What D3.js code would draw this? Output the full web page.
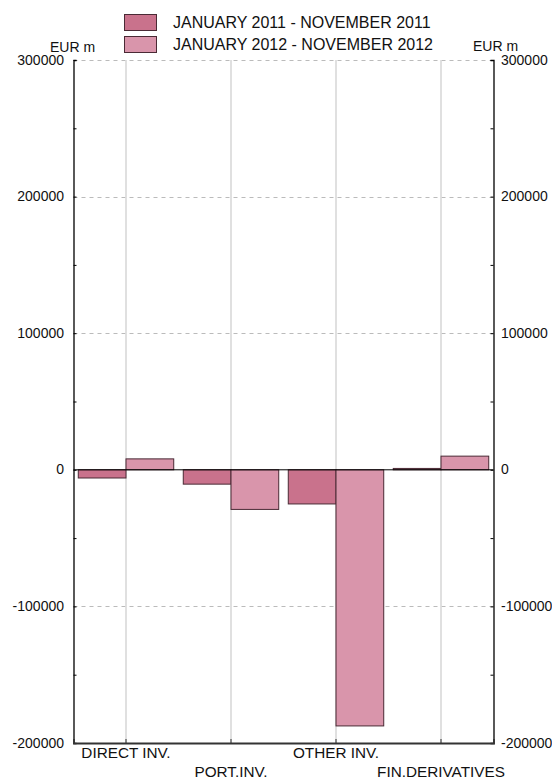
<!DOCTYPE html>
<html><head><meta charset="utf-8">
<script src="https://cdn.jsdelivr.net/npm/d3@7"></script>
<style>body{margin:0;background:#fff}svg{display:block;font-family:"Liberation Sans",Arial,sans-serif}</style>
</head><body><svg id="c" width="552" height="780"></svg>
<script>
const categories = ["DIRECT INV.", "PORT.INV.", "OTHER INV.", "FIN.DERIVATIVES"];
const seriesNames = ["JANUARY 2011 - NOVEMBER 2011", "JANUARY 2012 - NOVEMBER 2012"];
const values2011 = [-6000, -10500, -25000, 1000];
const values2012 = [8000, -29000, -187500, 10000];
const yTicks = [-200000, -100000, 0, 100000, 200000, 300000];
const unitLabel = "EUR m";
const colors = ["#c9728c", "#d995ab"];

const svg = d3.select("#c");
const L = 73.5, R = 493.5, T = 60, B = 743;
const x = d3.scaleBand().domain(categories).range([L, R]).paddingInner(0).paddingOuter(0);
const xs = d3.scaleBand().domain([0, 1]).range([0, x.bandwidth()]).paddingOuter(0.1).paddingInner(0);
const y = d3.scaleLinear().domain([-200000, 300000]).range([B, T]);

// horizontal dashed grid
svg.append("g").selectAll("line").data(yTicks.filter(d => d !== 0 && d !== -200000)).join("line")
  .attr("x1", L).attr("x2", R).attr("y1", d => Math.round(y(d)) + 0.5).attr("y2", d => Math.round(y(d)) + 0.5)
  .attr("stroke", "#bbb").attr("stroke-dasharray", "4,4").attr("stroke-width", 1);
// vertical grid at category centers
svg.append("g").selectAll("line").data(categories).join("line")
  .attr("x1", d => x(d) + x.bandwidth() / 2).attr("x2", d => x(d) + x.bandwidth() / 2)
  .attr("y1", T).attr("y2", B).attr("stroke", "#d6d6d6").attr("stroke-width", 1.5);

// bars
const series = [values2011, values2012];
series.forEach((vals, si) => {
  svg.append("g").selectAll("rect").data(categories).join("rect")
    .attr("x", (d) => x(d) + xs(si))
    .attr("width", xs.bandwidth())
    .attr("y", (d, i) => y(Math.max(0, vals[i])))
    .attr("height", (d, i) => Math.abs(y(vals[i]) - y(0)))
    .attr("fill", colors[si]).attr("stroke", "#4a2a35").attr("stroke-width", 1);
});

// zero line
svg.append("line").attr("x1", L).attr("x2", R).attr("y1", y(0)).attr("y2", y(0)).attr("stroke", "#000").attr("stroke-width", 1);

// left axis
const minor = d3.range(-200000, 300001, 50000);
const yl = svg.append("g").attr("transform", `translate(${L},0)`)
  .call(d3.axisRight(y).tickValues(minor).tickSize(3).tickFormat(""));
yl.select(".domain").attr("stroke", "#000").attr("stroke-width", 1.3);
svg.append("g").selectAll("text").data(yTicks).join("text")
  .attr("x", 64).attr("y", d => y(d) + 4.5).attr("text-anchor", "end").attr("font-size", 14).attr("fill", "#111").text(d => d);
// right axis
const yr = svg.append("g").attr("transform", `translate(${R},0)`)
  .call(d3.axisLeft(y).tickValues(minor).tickSize(3).tickFormat(""));
yr.select(".domain").attr("stroke", "#000").attr("stroke-width", 1.3);
svg.append("g").selectAll("text").data(yTicks).join("text")
  .attr("x", 501).attr("y", d => y(d) + 4.5).attr("text-anchor", "start").attr("font-size", 14).attr("fill", "#111").text(d => d);
svg.append("text").attr("x", 50).attr("y", 52).attr("font-size", 14).attr("fill", "#111").text(unitLabel);
svg.append("text").attr("x", 473).attr("y", 51).attr("font-size", 14).attr("fill", "#111").text(unitLabel);

// bottom axis
const xb = svg.append("g").attr("transform", `translate(0,${B})`)
  .call(d3.axisTop(x).tickSize(4).tickFormat(""));
xb.select(".domain").attr("stroke", "#333").attr("stroke-width", 1.8);
xb.selectAll(".tick line").attr("stroke", "#333");
svg.append("g").selectAll("text").data(categories).join("text")
  .attr("x", d => x(d) + x.bandwidth() / 2)
  .attr("y", (d, i) => i % 2 === 0 ? 758 : 777)
  .attr("text-anchor", "middle").attr("font-size", 15.3).attr("fill", "#111").text(d => d);

// legend
const lg = svg.append("g");
seriesNames.forEach((n, i) => {
  lg.append("rect").attr("x", 124.5).attr("y", 14.5 + i * 22).attr("width", 32).attr("height", 16)
    .attr("fill", colors[i]).attr("stroke", "#4a2a35").attr("stroke-width", 1);
  lg.append("text").attr("x", 173).attr("y", 28 + i * 22).attr("font-size", 16).attr("fill", "#111").text(n);
});
</script></body></html>
